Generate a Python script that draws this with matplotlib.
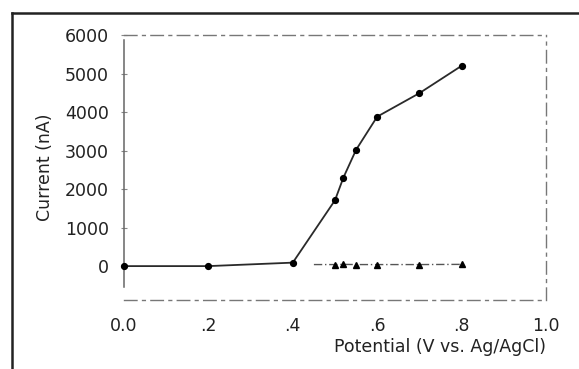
import matplotlib

matplotlib.use("Agg")

import matplotlib.pyplot as plt
from matplotlib.lines import Line2D

# data
potential = [0.0, 0.2, 0.4, 0.5, 0.52, 0.55, 0.6, 0.7, 0.8]
current_a = [0, 0, 90, 1710, 2300, 3020, 3880, 4490, 5200]

potential_b = [0.45, 0.5, 0.52, 0.55, 0.6, 0.7, 0.8]
current_b = [40, 40, 45, 40, 40, 40, 45]

yticks = [0, 1000, 2000, 3000, 4000, 5000, 6000]
xticks = [0.0, 0.2, 0.4, 0.6, 0.8, 1.0]
xticklabels = ["0.0", ".2", ".4", ".6", ".8", "1.0"]

W, H = 579, 369


def main() -> None:
    plt.rcParams.update({"font.family": "DejaVu Sans", "font.size": 12.5})
    fig = plt.figure(figsize=(W / 100, H / 100), dpi=100)

    ax = fig.add_axes([124 / W, 1 - 300 / H, 422 / W, 265 / H])
    ax.set_xlim(0, 1.0)
    ax.set_ylim(-880, 6000)

    ax.plot(potential, current_a, color="#2a2a2a", lw=1.3, marker="o",
            ms=4.2, mfc="black", mec="black", clip_on=False, zorder=4)
    ax.plot(potential_b, current_b, color="#555555", lw=1.0, ls=(0, (6, 2, 1, 2)),
            marker="^", ms=3.8, mfc="black", mec="black", markevery=list(range(1, 7)),
            clip_on=False, zorder=3)

    for side in ("top", "bottom", "right"):
        ax.spines[side].set_color("#777777")
        ax.spines[side].set_linewidth(1.0)
        ax.spines[side].set_linestyle((0, (9, 4, 2, 4)))
    ax.spines["left"].set_color("#666666")
    ax.spines["left"].set_linewidth(1.1)
    ax.spines["left"].set_bounds(-550, 5870)

    ax.set_yticks(yticks)
    ax.set_yticklabels([str(v) for v in yticks])
    ax.set_xticks(xticks)
    ax.set_xticklabels(xticklabels)
    ax.tick_params(axis="y", direction="inout", length=4, width=0.8,
                   color="#888888", pad=9, labelcolor="#222222")
    ax.tick_params(axis="x", length=0, pad=12, labelcolor="#222222")

    fig.text(45 / W, 1 - 167 / H, "Current (nA)", rotation=90,
             ha="center", va="center", color="#222222")
    fig.text(546 / W, 1 - 347 / H, "Potential (V vs. Ag/AgCl)",
             ha="right", va="center", color="#222222")

    # outer frame of the scanned figure
    fig.add_artist(Line2D([12 / W, 12 / W], [0, 1 - 13 / H], color="#222222",
                          lw=1.8, transform=fig.transFigure))
    fig.add_artist(Line2D([12 / W, 1], [1 - 13 / H, 1 - 13 / H], color="#222222",
                          lw=1.8, transform=fig.transFigure))

    fig.savefig("out.png", dpi=100)


if __name__ == "__main__":
    main()
